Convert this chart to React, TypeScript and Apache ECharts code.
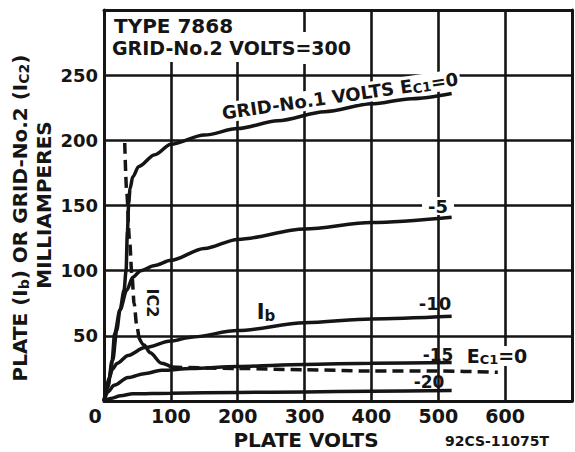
import React, { useEffect, useRef } from "react";
import * as echarts from "echarts";

// Plate current Ib (mA) vs plate volts, for each grid-No.1 voltage
const ec0Volts = [0, 8, 13, 19, 24, 30, 33, 35, 37, 39, 43, 52, 76, 100, 150, 200, 260, 330, 400, 460, 520];
const ec0Ma = [0, 18, 31, 54, 70, 85, 100, 130, 152, 163, 172, 180, 189, 197, 204, 209, 215, 222, 228, 232, 236];

const ec5Volts = [0, 6, 12, 16, 24, 34, 43, 55, 76, 100, 150, 200, 300, 400, 520];
const ec5Ma = [0, 11, 31, 52, 70, 85, 95, 100, 104, 108, 117, 124, 132, 137, 141];

const ec10Volts = [0, 5, 9, 12, 20, 36, 61, 100, 130, 200, 300, 400, 520];
const ec10Ma = [0, 10, 19, 24, 29, 35, 41, 46, 49, 54, 60, 63, 65];

const ec15Volts = [0, 6, 15, 36, 60, 86, 130, 200, 300, 400, 520];
const ec15Ma = [0, 7, 12, 18, 21, 23.5, 25, 26.5, 28, 29, 29.5];

const ec20Volts = [0, 10, 25, 43, 100, 200, 300, 400, 520];
const ec20Ma = [0, 2, 4, 5.5, 6, 6.5, 7, 7.5, 8];

// Grid-No.2 current Ic2 (mA) at Ec1 = 0
const ic2Volts = [31, 34, 38, 42, 45, 49, 52, 60, 69, 86, 101, 200, 300, 400, 500, 589];
const ic2Ma = [198, 160, 125, 95, 75, 58, 49, 43, 37, 29, 26, 25, 24, 23, 23, 22];
const ic2SolidFrom = 6;
const ic2SolidTo = 10;

const xTickMax = 700;
const yTickMax = 300;

const INK = "#151515";
const FONT = '"DejaVu Sans", sans-serif';

function pairs(v: number[], m: number[]) {
  return v.map((x, i) => [x, m[i]]);
}

function curve(name: string, data: number[][], dashed = false) {
  return {
    name,
    type: "line",
    data,
    showSymbol: false,
    symbol: "none",
    smooth: 0.3,
    smoothMonotone: "x",
    z: 3,
    lineStyle: { color: INK, width: 3.5, type: dashed ? [11, 6] : "solid", cap: "butt" },
  };
}

function label(text: string, x: number, y: number, size: number, extra: any = {}) {
  return {
    type: "text",
    x,
    y,
    z: 20,
    rotation: extra.rotation || 0,
    style: {
      text,
      fill: INK,
      font: `bold ${size}px ${FONT}`,
      align: extra.align || "center",
      verticalAlign: "middle",
      backgroundColor: extra.bg ? "#fff" : undefined,
      padding: extra.bg ? extra.pad || [0, 2] : undefined,
      rich: {
        s: { fontSize: Math.round(size * 0.7), fontWeight: "bold", fontFamily: FONT, fill: INK, padding: [7, 0, 0, 0] },
      },
    },
  };
}

const lineAxisCommon = {
  axisTick: { show: false },
  splitLine: { show: true, lineStyle: { color: INK, width: 2.6, type: "solid" } },
  axisLine: { show: true, onZero: false, lineStyle: { color: INK, width: 3 } },
};

const borderAxis = {
  type: "value",
  axisTick: { show: false },
  axisLabel: { show: false },
  splitLine: { show: false },
  axisLine: { show: true, onZero: false, lineStyle: { color: INK, width: 3 } },
};

export default function App() {
  const ref = useRef<HTMLDivElement>(null);
  useEffect(() => {
    if (!ref.current) return;
    const chart = echarts.init(ref.current, null, { renderer: "svg" });
    const ic2 = pairs(ic2Volts, ic2Ma);
    chart.setOption({
      animation: false,
      backgroundColor: "#fff",
      grid: { left: 104, right: 1, top: 10, bottom: 51, show: false, containLabel: false },
      xAxis: [
        {
          type: "value",
          position: "bottom",
          min: 0,
          max: xTickMax,
          interval: 100,
          ...lineAxisCommon,
          axisLabel: {
            color: INK,
            fontSize: 19,
            fontWeight: "bold",
            fontFamily: FONT,
            margin: 5,
            formatter: (v: number) => (v === 0 ? "{o|0}" : v === xTickMax ? "" : String(v)),
            rich: { o: { fontSize: 19, fontWeight: "bold", fontFamily: FONT, color: INK, padding: [0, 18, 0, 0] } },
          },
        },
        { ...borderAxis, position: "top", min: 0, max: xTickMax, interval: 100 },
      ],
      yAxis: [
        {
          type: "value",
          position: "left",
          min: 0,
          max: yTickMax,
          interval: 50,
          ...lineAxisCommon,
          axisLabel: {
            color: INK,
            fontSize: 18,
            fontWeight: "bold",
            fontFamily: FONT,
            margin: 6,
            formatter: (v: number) => (v === 0 || v === yTickMax ? "" : String(v)),
          },
        },
        { ...borderAxis, position: "right", min: 0, max: yTickMax, interval: 50 },
      ],
      series: [
        curve("Ec1=0", pairs(ec0Volts, ec0Ma)),
        curve("Ec1=-5", pairs(ec5Volts, ec5Ma)),
        curve("Ec1=-10", pairs(ec10Volts, ec10Ma)),
        curve("Ec1=-15", pairs(ec15Volts, ec15Ma)),
        curve("Ec1=-20", pairs(ec20Volts, ec20Ma)),
        curve("Ic2 upper", ic2.slice(0, ic2SolidFrom + 1), true),
        curve("Ic2 knee", ic2.slice(ic2SolidFrom, ic2SolidTo + 1)),
        curve("Ic2", ic2.slice(ic2SolidTo), true),
      ],
      graphic: [
        { type: "rect", z: 15, shape: { x: 106, y: 12, width: 195, height: 50 }, style: { fill: "#fff" } },
        { type: "rect", z: 15, shape: { x: 301, y: 32, width: 60, height: 32 }, style: { fill: "#fff" } },
        label("TYPE 7868", 114, 26, 20, { align: "left" }),
        label("GRID-No.2 VOLTS=300", 112, 48, 19, { align: "left" }),
        label("GRID-No.1 VOLTS E{s|C1}=0", 340, 96, 18, { rotation: 0.145, bg: true }),
        label("-5", 438, 206, 18, { bg: true, pad: [0, 6] }),
        label("I{s|b}", 266, 312, 21),
        label("-10", 435, 303, 18),
        label("-15", 438, 355, 17),
        label("E{s|C1}=0", 497, 356, 19, { bg: true }),
        label("-20", 429, 382, 17),
        label("IC2", 152, 303, 16, { rotation: -Math.PI / 2 }),
        label("PLATE (I{s|b}) OR GRID-No.2 (I{s|C2})", 20, 218, 20, { rotation: Math.PI / 2 }),
        label("MILLIAMPERES", 44, 205, 20, { rotation: Math.PI / 2 }),
        label("PLATE VOLTS", 306, 440, 20),
        label("92CS-11075T", 497, 441, 14),
      ],
    });
    return () => chart.dispose();
  }, []);
  return <div ref={ref} style={{ width: 575, height: 452, position: "absolute", left: 0, top: 0 }} />;
}
